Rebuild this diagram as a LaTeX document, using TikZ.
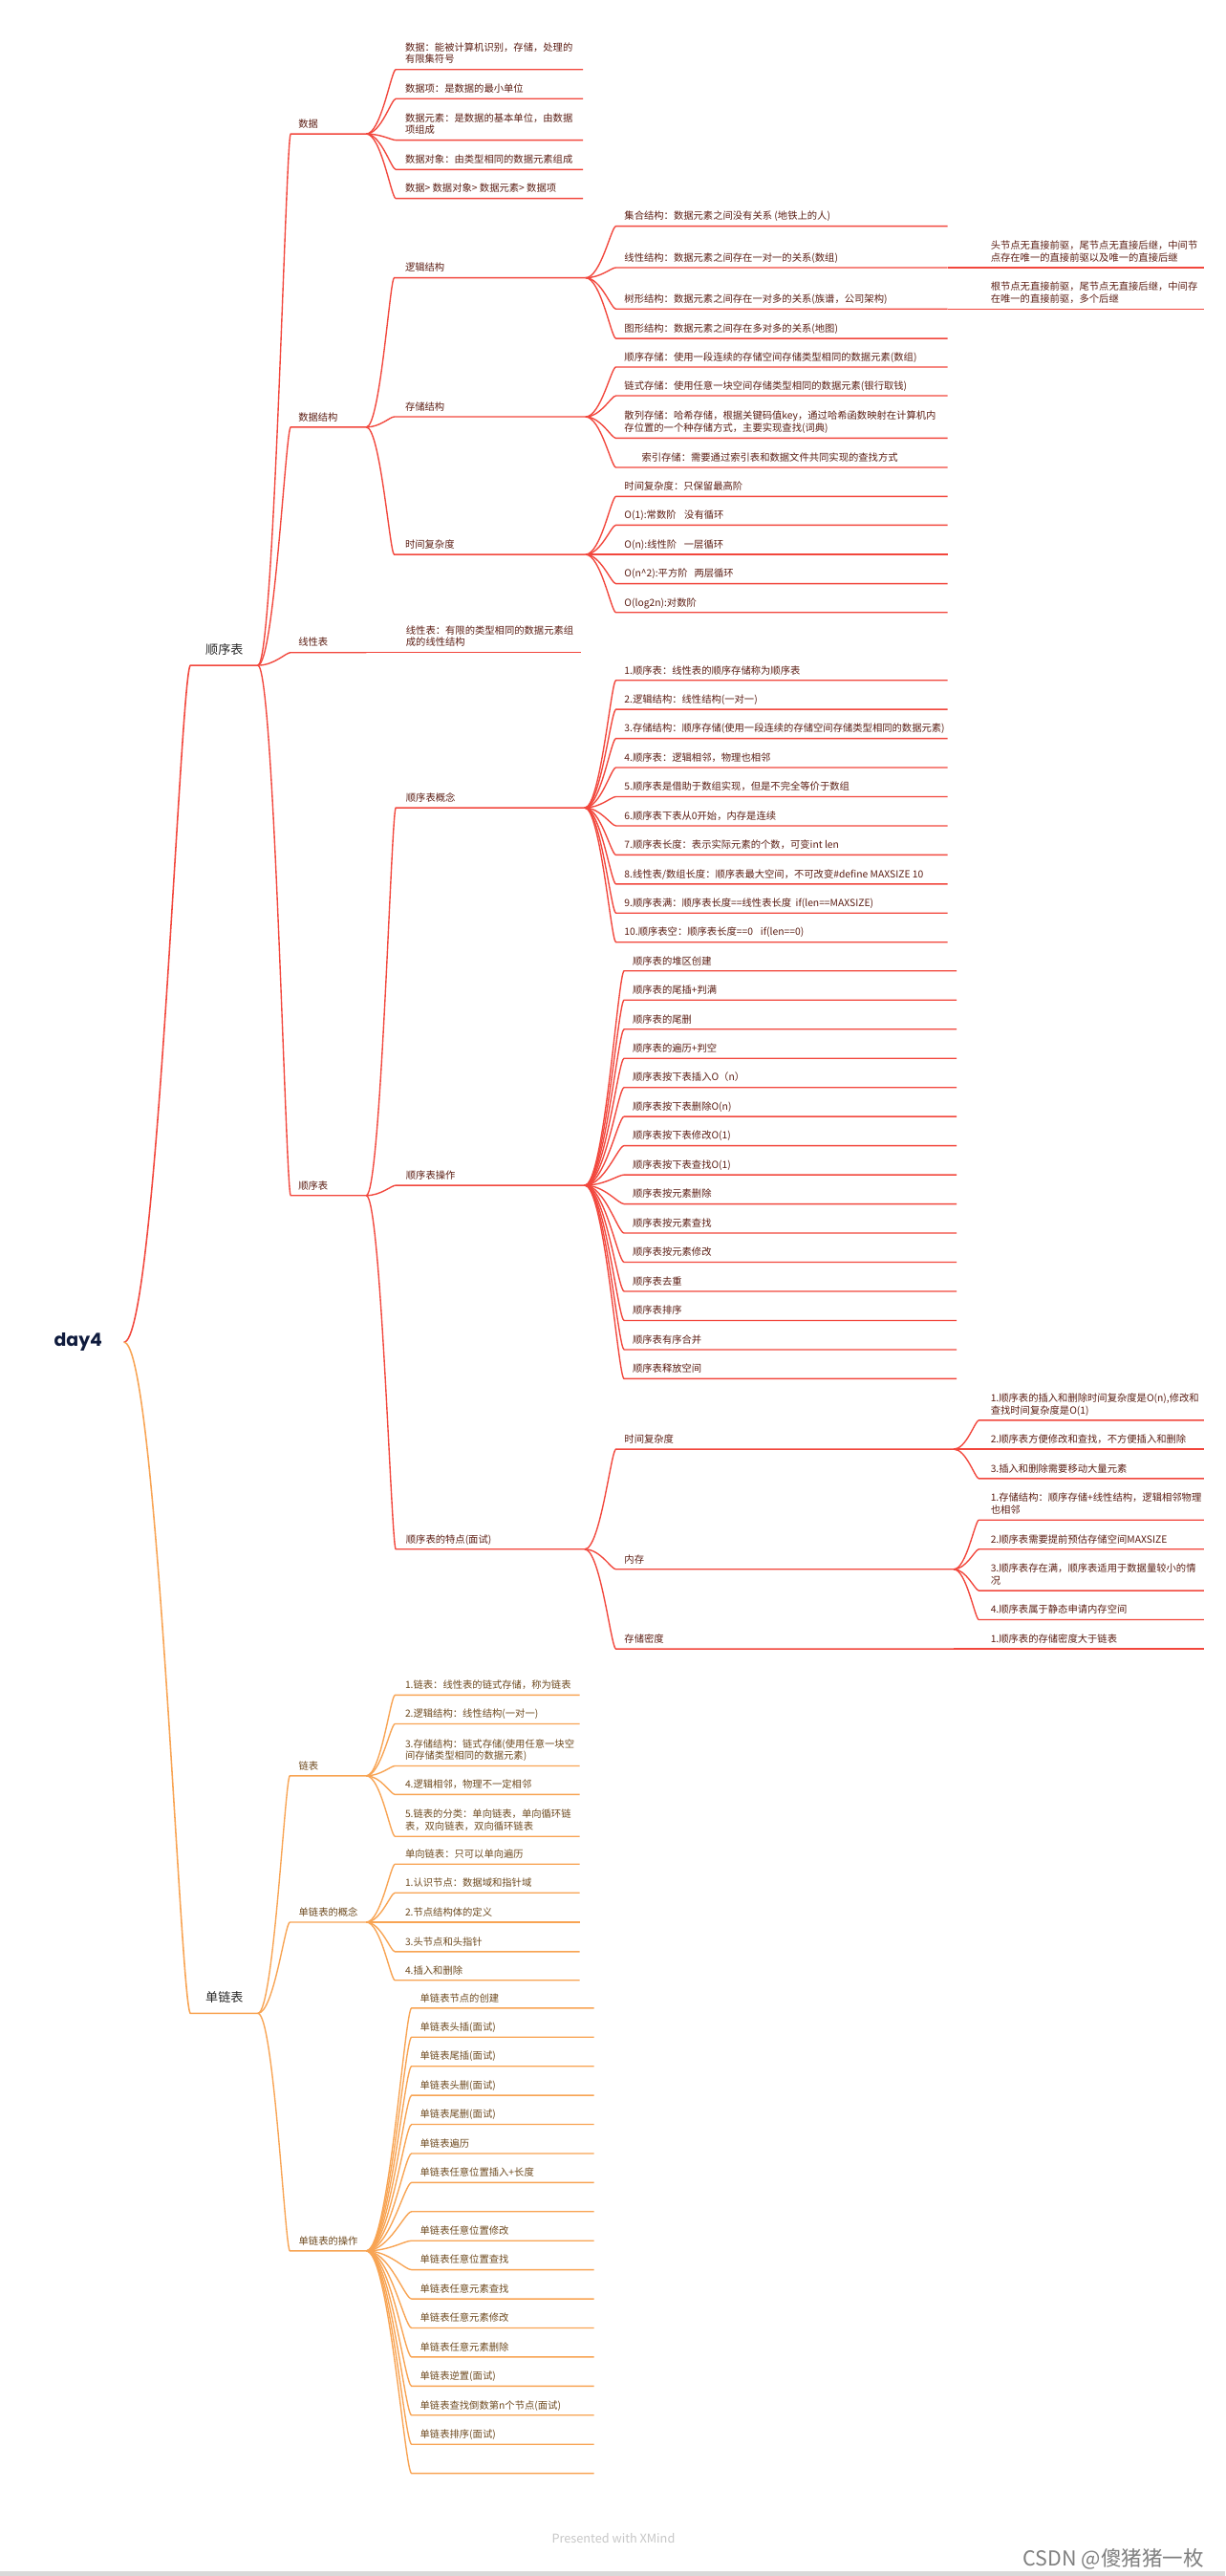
\documentclass[tikz,border=0pt]{standalone}
\usepackage{fontspec}
\setmainfont{Noto Sans CJK SC}
\newfontfamily\rootfont{Poppins}
\usetikzlibrary{calc}

\definecolor{seqred}{HTML}{F2473D}
\definecolor{seqtext}{HTML}{5C1E14}
\definecolor{lnkorange}{HTML}{F8A453}
\definecolor{lnktext}{HTML}{6E4A1F}
\definecolor{roottext}{HTML}{0F1B3D}

\newcommand{\tworows}[2]{\vbox{\hbox{#1}\hbox{#2}}}

\tikzset{
  fan/.style={to path={let \p1=(\tikztostart), \p2=(\tikztotarget) in
    .. controls ({\x1+0.5*(\x2-\x1)},\y1) and ({\x1+0.85*(\x2-\x1)},\y2) .. (\tikztotarget)}},
  seqline/.style={draw=seqred, line width=0.8pt},
  lnkline/.style={draw=lnkorange, line width=0.8pt},
  topic/.style={anchor=base west, inner sep=0pt, font=\fontsize{6}{7.45}\selectfont},
  seqtopic/.style={topic, text=seqtext},
  lnktopic/.style={topic, text=lnktext},
  mainnode/.style={anchor=base west, inner sep=0pt, font=\fontsize{7.6}{9}\selectfont, text=black!85},
  rootnode/.style={inner xsep=13pt, inner ysep=0pt, font=\rootfont\bfseries\fontsize{11}{13}\selectfont, text=roottext},
}

\begin{document}
\begin{tikzpicture}[x=1pt,y=-1pt]
    \fill[white] (0,0) rectangle (746,1568);
    \useasboundingbox (0,0) rectangle (746,1568);

    % root and main topics
    \node[rootnode] (day4) at (47.6,817) {day4};
    \coordinate (Lseq) at (116,405); \coordinate (Rseq) at (157,405);
    \node[mainnode] (seq) at ([shift={(9,-7)}]Lseq) {顺序表};
    \coordinate (Lsll) at (116,1225.5); \coordinate (Rsll) at (157,1225.5);
    \node[mainnode] (sll) at ([shift={(9,-7)}]Lsll) {单链表};
    \draw[seqline, line width=0.9pt] (day4.east) to[fan] (Lseq) -- (Rseq);
    \draw[lnkline, line width=0.9pt] (day4.east) to[fan] (Lsll) -- (Rsll);

    % 顺序表 branch
    \foreach \nm/\yy/\t in {data/81.5/数据, ds/260/数据结构, lin/397.2/线性表, sq/727.7/顺序表}{
        \coordinate (L\nm) at (177,\yy); \coordinate (R\nm) at (223,\yy);
        \node[seqtopic] (\nm) at ([shift={(4.5,-3.9)}]L\nm) {\t};
        \draw[seqline] (Rseq) to[fan] (L\nm) -- (R\nm);
    }
    \foreach \yy/\t [count=\i] in {42.3/{\tworows{数据：能被计算机识别，存储，处理的}{有限集符号}},
        60.1/{数据项：是数据的最小单位},
        85.3/{\tworows{数据元素：是数据的基本单位，由数据}{项组成}},
        103.2/{数据对象：由类型相同的数据元素组成},
        120.8/{数据> 数据对象> 数据元素> 数据项}}{
        \coordinate (Ld\i) at (241,\yy); \coordinate (Rd\i) at (355,\yy);
        \node[seqtopic] (d\i) at ([shift={(5.5,-3.9)}]Ld\i) {\t};
        \draw[seqline] (Rdata) to[fan] (Ld\i) -- (Rd\i);
    }
    \foreach \nm/\yy/\t in {logic/169.1/逻辑结构, store/253.7/存储结构, tc/337.5/时间复杂度}{
        \coordinate (L\nm) at (240,\yy); \coordinate (R\nm) at (356.5,\yy);
        \node[seqtopic] (\nm) at ([shift={(6.5,-3.9)}]L\nm) {\t};
        \draw[seqline] (Rds) to[fan] (L\nm) -- (R\nm);
    }
    \coordinate (Llin1) at (241,397.2); \coordinate (Rlin1) at (354,397.2);
    \node[seqtopic] (lin1) at ([shift={(6,-3.9)}]Llin1) {\tworows{线性表：有限的类型相同的数据元素组}{成的线性结构}};
    \draw[seqline] (Rlin) to[fan] (Llin1) -- (Rlin1);
    \foreach \nm/\yy/\t in {concept/491.7/顺序表概念, ops/721.5/顺序表操作, feat/943/顺序表的特点(面试)}{
        \coordinate (L\nm) at (241,\yy); \coordinate (R\nm) at (356,\yy);
        \node[seqtopic] (\nm) at ([shift={(6,-3.9)}]L\nm) {\t};
        \draw[seqline] (Rsq) to[fan] (L\nm) -- (R\nm);
    }

    % logic / storage / complexity
    \foreach \yy/\t [count=\i] in {137.7/{集合结构：数据元素之间没有关系 (地铁上的人)},
        162.9/{线性结构：数据元素之间存在一对一的关系(数组)},
        188.1/{树形结构：数据元素之间存在一对多的关系(族谱，公司架构)},
        206/{图形结构：数据元素之间存在多对多的关系(地图)}}{
        \coordinate (Llg\i) at (375,\yy); \coordinate (Rlg\i) at (577,\yy);
        \node[seqtopic] (lg\i) at ([shift={(5,-3.9)}]Llg\i) {\t};
        \draw[seqline] (Rlogic) to[fan] (Llg\i) -- (Rlg\i);
    }
    \coordinate (Ln2) at (596,162.9); \coordinate (Rn2) at (733,162.9);
    \node[seqtopic] (n2) at ([shift={(7,-3.9)}]Ln2) {\tworows{头节点无直接前驱，尾节点无直接后继，中间节}{点存在唯一的直接前驱以及唯一的直接后继}};
    \draw[seqline] (Rlg2) to[fan] (Ln2) -- (Rn2);
    \coordinate (Ln3) at (596,188.1); \coordinate (Rn3) at (733,188.1);
    \node[seqtopic] (n3) at ([shift={(7,-3.9)}]Ln3) {\tworows{根节点无直接前驱，尾节点无直接后继，中间存}{在唯一的直接前驱，多个后继}};
    \draw[seqline] (Rlg3) to[fan] (Ln3) -- (Rn3);

    \foreach \yy/\t [count=\i] in {223.4/{顺序存储：使用一段连续的存储空间存储类型相同的数据元素(数组)},
        240.9/{链式存储：使用任意一块空间存储类型相同的数据元素(银行取钱)},
        266.7/{\tworows{散列存储：哈希存储，根据关键码值key，通过哈希函数映射在计算机内}{存位置的一个种存储方式，主要实现查找(词典)}},
        284.5/{\hspace{10.5pt}索引存储：需要通过索引表和数据文件共同实现的查找方式}}{
        \coordinate (Lst\i) at (375,\yy); \coordinate (Rst\i) at (577,\yy);
        \node[seqtopic] (st\i) at ([shift={(5,-3.9)}]Lst\i) {\t};
        \draw[seqline] (Rstore) to[fan] (Lst\i) -- (Rst\i);
    }
    \foreach \yy/\t [count=\i] in {302.2/{时间复杂度：只保留最高阶},
        319.6/{O(1):常数阶\hspace{5pt}没有循环},
        337.5/{O(n):线性阶\hspace{4.5pt}一层循环},
        355.3/{O(n\textasciicircum2):平方阶\hspace{4pt}两层循环},
        372.8/{O(log2n):对数阶}}{
        \coordinate (Ltc\i) at (375,\yy); \coordinate (Rtc\i) at (577,\yy);
        \node[seqtopic] (tc\i) at ([shift={(5,-3.9)}]Ltc\i) {\t};
        \draw[seqline] (Rtc) to[fan] (Ltc\i) -- (Rtc\i);
    }

    % 顺序表概念 / 顺序表操作
    \foreach \t [count=\i] in {{1.顺序表：线性表的顺序存储称为顺序表},
        {2.逻辑结构：线性结构(一对一)},
        {3.存储结构：顺序存储(使用一段连续的存储空间存储类型相同的数据元素)},
        {4.顺序表：逻辑相邻，物理也相邻},
        {5.顺序表是借助于数组实现，但是不完全等价于数组},
        {6.顺序表下表从0开始，内存是连续},
        {7.顺序表长度：表示实际元素的个数，可变int len},
        {8.线性表/数组长度：顺序表最大空间，不可改变\#define MAXSIZE 10},
        {9.顺序表满：顺序表长度==线性表长度\hspace{2.6pt}if(len==MAXSIZE)},
        {10.顺序表空：顺序表长度==0\hspace{4.6pt}if(len==0)}}{
        \coordinate (Lc\i) at (375,{414.1+17.71*(\i-1)}); \coordinate (Rc\i) at (577,{414.1+17.71*(\i-1)});
        \node[seqtopic] (c\i) at ([shift={(5,-3.9)}]Lc\i) {\t};
        \draw[seqline] (Rconcept) to[fan] (Lc\i) -- (Rc\i);
    }
    \foreach \t [count=\i] in {顺序表的堆区创建, 顺序表的尾插+判满, 顺序表的尾删, 顺序表的遍历+判空,
        顺序表按下表插入O（n）, 顺序表按下表删除O(n), 顺序表按下表修改O(1), 顺序表按下表查找O(1),
        顺序表按元素删除, 顺序表按元素查找, 顺序表按元素修改, 顺序表去重, 顺序表排序,
        顺序表有序合并, 顺序表释放空间}{
        \coordinate (Lo\i) at (380,{591+17.73*(\i-1)}); \coordinate (Ro\i) at (582.5,{591+17.73*(\i-1)});
        \node[seqtopic] (o\i) at ([shift={(5,-3.9)}]Lo\i) {\t};
        \draw[seqline] (Rops) to[fan] (Lo\i) -- (Ro\i);
    }

    % 顺序表的特点
    \foreach \nm/\yy/\t in {ftc/882.1/时间复杂度, fmem/955.2/内存, fden/1003.7/存储密度}{
        \coordinate (L\nm) at (375,\yy); \coordinate (R\nm) at (580.7,\yy);
        \node[seqtopic] (\nm) at ([shift={(5,-3.9)}]L\nm) {\t};
        \draw[seqline] (Rfeat) to[fan] (L\nm) -- (R\nm);
    }
    \foreach \yy/\t [count=\i] in {864.5/{\tworows{1.顺序表的插入和删除时间复杂度是O(n),修改和}{查找时间复杂度是O(1)}},
        882.1/{2.顺序表方便修改和查找，不方便插入和删除},
        900/{3.插入和删除需要移动大量元素}}{
        \coordinate (Lf\i) at (596,\yy); \coordinate (Rf\i) at (733,\yy);
        \node[seqtopic] (f\i) at ([shift={(7,-3.9)}]Lf\i) {\t};
        \draw[seqline] (Rftc) to[fan] (Lf\i) -- (Rf\i);
    }
    \foreach \yy/\t [count=\i] in {925.2/{\tworows{1.存储结构：顺序存储+线性结构，逻辑相邻物理}{也相邻}},
        943/{2.顺序表需要提前预估存储空间MAXSIZE},
        968.2/{\tworows{3.顺序表存在满，顺序表适用于数据量较小的情}{况}},
        985.9/{4.顺序表属于静态申请内存空间}}{
        \coordinate (Lm\i) at (596,\yy); \coordinate (Rm\i) at (733,\yy);
        \node[seqtopic] (m\i) at ([shift={(7,-3.9)}]Lm\i) {\t};
        \draw[seqline] (Rfmem) to[fan] (Lm\i) -- (Rm\i);
    }
    \coordinate (Ldd) at (596,1003.7); \coordinate (Rdd) at (733,1003.7);
    \node[seqtopic] (dd) at ([shift={(7,-3.9)}]Ldd) {1.顺序表的存储密度大于链表};
    \draw[seqline] (Rfden) to[fan] (Ldd) -- (Rdd);

    % 单链表 branch
    \foreach \nm/\yy/\t in {lk/1080.9/链表, sc/1170/单链表的概念, so/1370.1/单链表的操作}{
        \coordinate (L\nm) at (176.5,\yy); \coordinate (R\nm) at (223,\yy);
        \node[lnktopic] (\nm) at ([shift={(5.2,-3.9)}]L\nm) {\t};
        \draw[lnkline] (Rsll) to[fan] (L\nm) -- (R\nm);
    }
    \foreach \yy/\t [count=\i] in {1031.8/{1.链表：线性表的链式存储，称为链表},
        1049.3/{2.逻辑结构：线性结构(一对一)},
        1074.9/{\tworows{3.存储结构：链式存储(使用任意一块空}{间存储类型相同的数据元素)}},
        1092.3/{4.逻辑相邻，物理不一定相邻},
        1117.8/{\tworows{5.链表的分类：单向链表，单向循环链}{表，双向链表，双向循环链表}}}{
        \coordinate (Lk\i) at (240.5,\yy); \coordinate (Rk\i) at (353,\yy);
        \node[lnktopic] (k\i) at ([shift={(6,-3.9)}]Lk\i) {\t};
        \draw[lnkline] (Rlk) to[fan] (Lk\i) -- (Rk\i);
    }
    \foreach \yy/\t [count=\i] in {1134.7/{单向链表：只可以单向遍历},
        1152.1/{1.认识节点：数据域和指针域},
        1170/{2.节点结构体的定义},
        1188/{3.头节点和头指针},
        1205.4/{4.插入和删除}}{
        \coordinate (Ls\i) at (240.5,\yy); \coordinate (Rs\i) at (353,\yy);
        \node[lnktopic] (s\i) at ([shift={(6,-3.9)}]Ls\i) {\t};
        \draw[lnkline] (Rsc) to[fan] (Ls\i) -- (Rs\i);
    }
    \foreach \t [count=\i] in {单链表节点的创建, 单链表头插(面试), 单链表尾插(面试), 单链表头删(面试),
        单链表尾删(面试), 单链表遍历, 单链表任意位置插入+长度, {}, 单链表任意位置修改,
        单链表任意位置查找, 单链表任意元素查找, 单链表任意元素修改, 单链表任意元素删除,
        单链表逆置(面试), 单链表查找倒数第n个节点(面试), 单链表排序(面试), {}}{
        \coordinate (Lop\i) at (250.6,{1222.3+17.7*(\i-1)}); \coordinate (Rop\i) at (361.7,{1222.3+17.7*(\i-1)});
        \node[lnktopic] (op\i) at ([shift={(5,-3.9)}]Lop\i) {\t};
        \draw[lnkline] (Rso) to[fan] (Lop\i) -- (Rop\i);
    }

    % footer texts
    \node[font=\fontsize{7.4}{9}\selectfont, text=black!22] (xmind) at (373.5,1545) {Presented with XMind};
    \node[font=\fontsize{12.5}{14}\selectfont, text=black!50, anchor=east] (csdn) at (736.4,1557.5) {CSDN @傻猪猪一枚};
    \fill[black!15] (0,1565) rectangle (746,1568);
\end{tikzpicture}
\end{document}
